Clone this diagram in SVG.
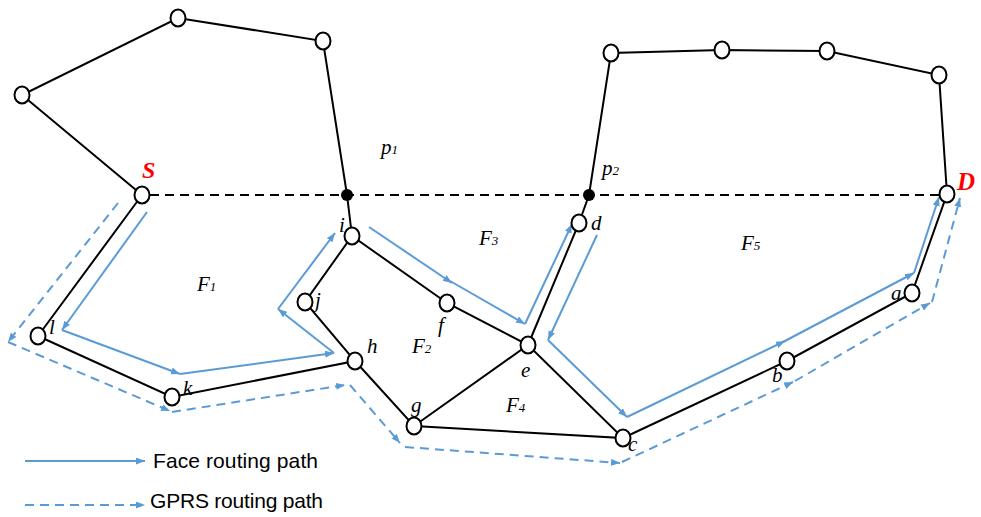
<svg xmlns="http://www.w3.org/2000/svg" width="981" height="517" viewBox="0 0 981 517">
<style>
.e{stroke:#000;stroke-width:2;fill:none}
.bd{stroke:#000;stroke-width:2;stroke-dasharray:9 6;fill:none}
.n{fill:#fff;stroke:#000;stroke-width:2}
.p{fill:#000}
.fr{stroke:#5B9BD5;stroke-width:2;fill:none;marker-end:url(#ar)}
.gp{stroke:#5B9BD5;stroke-width:2;stroke-dasharray:9 6;fill:none;marker-end:url(#ar)}
.l{font-family:"Liberation Serif","Times New Roman",serif;font-style:italic;font-size:21px;fill:#000}
.s{font-size:13px}
.sd{font-family:"Liberation Serif","Times New Roman",serif;font-style:italic;font-weight:bold;fill:#FF0000}
.lg{font-family:"Liberation Sans",Arial,sans-serif;font-size:21px;fill:#000}
</style>
<defs>
<marker id="ar" markerUnits="userSpaceOnUse" markerWidth="10" markerHeight="8" refX="9" refY="3.5" orient="auto">
<path d="M0,0 L9,3.5 L0,7 z" fill="#5B9BD5"/>
</marker>
</defs>
<g id="edges">
<polyline class="e" points="142,195 22,95 178,18 323,41 347,195 352,236"/>
<polyline class="e" points="352,236 305,302 355,361 172,397 38,336 142,195"/>
<polyline class="e" points="352,236 447,303 528,345"/>
<polyline class="e" points="355,361 414,426 528,345 623,438 414,426"/>
<polyline class="e" points="528,345 579,223 589,195 611,53 722,50 827,51 939,75 947,194 912,293 787,361 623,438"/>
<line class="bd" x1="150" y1="195" x2="939" y2="195"/>
</g>
<g id="connectors">
<line class="fr" x1="147" y1="212" x2="62" y2="330"/>
<line class="fr" x1="62" y1="330" x2="180" y2="374"/>
<line class="fr" x1="180" y1="374" x2="334" y2="353"/>
<line class="fr" x1="334" y1="353" x2="278" y2="309"/>
<line class="fr" x1="278" y1="309" x2="335" y2="233"/>
<line class="fr" x1="369" y1="227" x2="452" y2="283"/>
<line class="fr" x1="450" y1="281" x2="525" y2="324"/>
<line class="fr" x1="525" y1="324" x2="572" y2="224"/>
<line class="fr" x1="597" y1="235" x2="548" y2="340"/>
<line class="fr" x1="548" y1="340" x2="627" y2="417"/>
<line class="fr" x1="627" y1="417" x2="785" y2="341"/>
<line class="fr" x1="783" y1="342" x2="914" y2="273"/>
<line class="fr" x1="914" y1="273" x2="939" y2="197"/>
<line class="gp" x1="118" y1="203" x2="8" y2="342"/>
<line class="gp" x1="8" y1="342" x2="170" y2="411"/>
<line class="gp" x1="172" y1="412" x2="345" y2="385"/>
<line class="gp" x1="350" y1="385" x2="400" y2="443"/>
<line class="gp" x1="405" y1="447" x2="620" y2="463"/>
<line class="gp" x1="622" y1="462" x2="793" y2="382"/>
<line class="gp" x1="795" y1="381" x2="930" y2="303"/>
<line class="gp" x1="932" y1="302" x2="960" y2="198"/>
<line class="fr" x1="25" y1="461" x2="145" y2="461"/>
<line class="gp" x1="25" y1="505" x2="145" y2="505"/>
</g>
<g id="node-n1"><ellipse class="n" cx="22" cy="95" rx="7.5" ry="8.5"/></g>
<g id="node-n2"><ellipse class="n" cx="178" cy="18" rx="7.5" ry="8.5"/></g>
<g id="node-n3"><ellipse class="n" cx="323" cy="41" rx="7.5" ry="8.5"/></g>
<g id="node-S"><ellipse class="n" cx="142" cy="195" rx="7.5" ry="8.5"/><text class="sd" x="142" y="178" font-size="24">S</text></g>
<g id="node-p1"><circle class="p" cx="347" cy="195" r="6"/><text class="l" x="381" y="154">p<tspan class="s">1</tspan></text></g>
<g id="node-i"><ellipse class="n" cx="352" cy="236" rx="7.5" ry="8.5"/><text class="l" x="339" y="232">i</text></g>
<g id="node-j"><ellipse class="n" cx="305" cy="302" rx="7.5" ry="8.5"/><text class="l" x="315" y="307">j</text></g>
<g id="node-h"><ellipse class="n" cx="355" cy="361" rx="7.5" ry="8.5"/><text class="l" x="367" y="353">h</text></g>
<g id="node-l"><ellipse class="n" cx="38" cy="336" rx="7.5" ry="8.5"/><text class="l" x="49" y="334">l</text></g>
<g id="node-k"><ellipse class="n" cx="172" cy="397" rx="7.5" ry="8.5"/><text class="l" x="183" y="395">k</text></g>
<g id="node-g"><ellipse class="n" cx="414" cy="426" rx="7.5" ry="8.5"/><text class="l" x="411" y="412">g</text></g>
<g id="node-f"><ellipse class="n" cx="447" cy="303" rx="7.5" ry="8.5"/><text class="l" x="438" y="332">f</text></g>
<g id="node-e"><ellipse class="n" cx="528" cy="345" rx="7.5" ry="8.5"/><text class="l" x="521" y="377">e</text></g>
<g id="node-d"><ellipse class="n" cx="579" cy="223" rx="7.5" ry="8.5"/><text class="l" x="591" y="230">d</text></g>
<g id="node-c"><ellipse class="n" cx="623" cy="438" rx="7.5" ry="8.5"/><text class="l" x="628" y="451">c</text></g>
<g id="node-b"><ellipse class="n" cx="787" cy="361" rx="7.5" ry="8.5"/><text class="l" x="772" y="382">b</text></g>
<g id="node-a"><ellipse class="n" cx="912" cy="293" rx="7.5" ry="8.5"/><text class="l" x="891" y="300">a</text></g>
<g id="node-p2"><circle class="p" cx="589" cy="195" r="6"/><text class="l" x="602" y="175">p<tspan class="s">2</tspan></text></g>
<g id="node-n4"><ellipse class="n" cx="611" cy="53" rx="7.5" ry="8.5"/></g>
<g id="node-n5"><ellipse class="n" cx="722" cy="50" rx="7.5" ry="8.5"/></g>
<g id="node-n6"><ellipse class="n" cx="827" cy="51" rx="7.5" ry="8.5"/></g>
<g id="node-n7"><ellipse class="n" cx="939" cy="75" rx="7.5" ry="8.5"/></g>
<g id="node-D"><ellipse class="n" cx="947" cy="194" rx="7.5" ry="8.5"/><text class="sd" x="957" y="190" font-size="25">D</text></g>
<g id="faces">
<text class="l" x="197" y="291">F<tspan class="s">1</tspan></text>
<text class="l" x="412" y="353">F<tspan class="s">2</tspan></text>
<text class="l" x="479" y="245">F<tspan class="s">3</tspan></text>
<text class="l" x="506" y="412">F<tspan class="s">4</tspan></text>
<text class="l" x="741" y="250">F<tspan class="s">5</tspan></text>
</g>
<g id="legend">
<text class="lg" x="153" y="468" textLength="165">Face routing path</text>
<text class="lg" x="150" y="508" textLength="173">GPRS routing path</text>
</g>
</svg>
